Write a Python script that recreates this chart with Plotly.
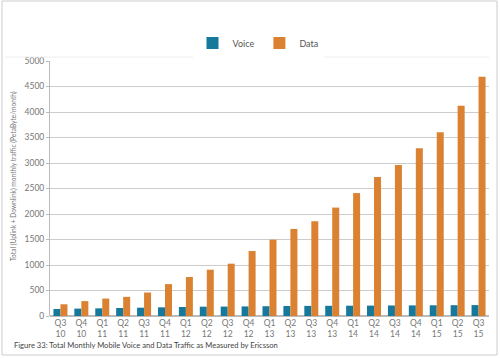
import plotly.graph_objects as go

quarters = ["Q3<br>10", "Q4<br>10", "Q1<br>11", "Q2<br>11", "Q3<br>11", "Q4<br>11",
            "Q1<br>12", "Q2<br>12", "Q3<br>12", "Q4<br>12", "Q1<br>13", "Q2<br>13",
            "Q3<br>13", "Q4<br>13", "Q1<br>14", "Q2<br>14", "Q3<br>14", "Q4<br>14",
            "Q1<br>15", "Q2<br>15", "Q3<br>15"]
voice = [138, 145, 150, 157, 163, 170, 177, 183, 185, 188, 192, 196,
         198, 200, 202, 204, 206, 208, 210, 212, 214]
data = [230, 292, 342, 375, 460, 625, 765, 908, 1026, 1274, 1496, 1707,
        1858, 2126, 2410, 2724, 2960, 3287, 3602, 4122, 4693]

L, R, T, B = 50, 489, 61, 316
W, H = R - L, B - T
px = lambda x: (x - L) / W
py = lambda y: (B - y) / H

fig = go.Figure()
fig.add_trace(go.Bar(name="Voice", x=quarters, y=voice, marker_color="#16799b",
                     marker_line_width=0))
fig.add_trace(go.Bar(name="Data", x=quarters, y=data, marker_color="#db8232",
                     marker_line_width=0))

fig.update_layout(
    width=500, height=358,
    margin=dict(l=L, r=500 - R, t=T, b=358 - B),
    paper_bgcolor="white", plot_bgcolor="white",
    font=dict(family="Lato, Open Sans, sans-serif", size=9, color="#666666"),
    barmode="group", bargap=0.33, bargroupgap=0.0,
    showlegend=True,
    legend=dict(orientation="h", x=px(258), xanchor="center", y=py(43), yanchor="middle",
                font=dict(size=9, color="#555555"), itemwidth=30, traceorder="normal"),
    xaxis=dict(showgrid=False, showline=False, ticks="", tickfont=dict(size=8.5, color="#777777"),
               range=[-0.5, 20.5]),
    yaxis=dict(range=[0, 5000], dtick=500, showgrid=True, gridcolor="#cccccc", gridwidth=1,
               showline=True, linecolor="#bbbbbb", linewidth=1, ticks="outside", ticklen=3,
               tickcolor="#bbbbbb", zeroline=True, zerolinecolor="#bbbbbb",
               tickfont=dict(size=8.5, color="#777777")),
    shapes=[
        dict(type="rect", xref="paper", yref="paper", x0=px(2), x1=px(497), y0=py(355), y1=py(1),
             line=dict(color="#cccccc", width=1), fillcolor="rgba(0,0,0,0)", layer="below"),
        dict(type="line", xref="paper", yref="paper", x0=px(5), x1=px(489), y0=py(57), y1=py(57),
             line=dict(color="#eeeeee", width=1)),
    ],
    annotations=[
        dict(text="Figure 33: Total Monthly Mobile Voice and Data Traffic as Measured by Ericsson",
             xref="paper", yref="paper", x=px(12), y=py(345), xanchor="left", yanchor="middle",
             showarrow=False, font=dict(size=7.6, color="#444444")),
        dict(text="Total (Uplink + Downlink) monthly traffic (PetaByte/month)",
             xref="paper", yref="paper", x=px(13), y=py(176), xanchor="center", yanchor="middle",
             textangle=-90, showarrow=False, font=dict(size=6.6, color="#777777")),
    ],
)

fig.write_html("out.html", post_script="document.body.style.margin='0';",
               config={"displayModeBar": False})
